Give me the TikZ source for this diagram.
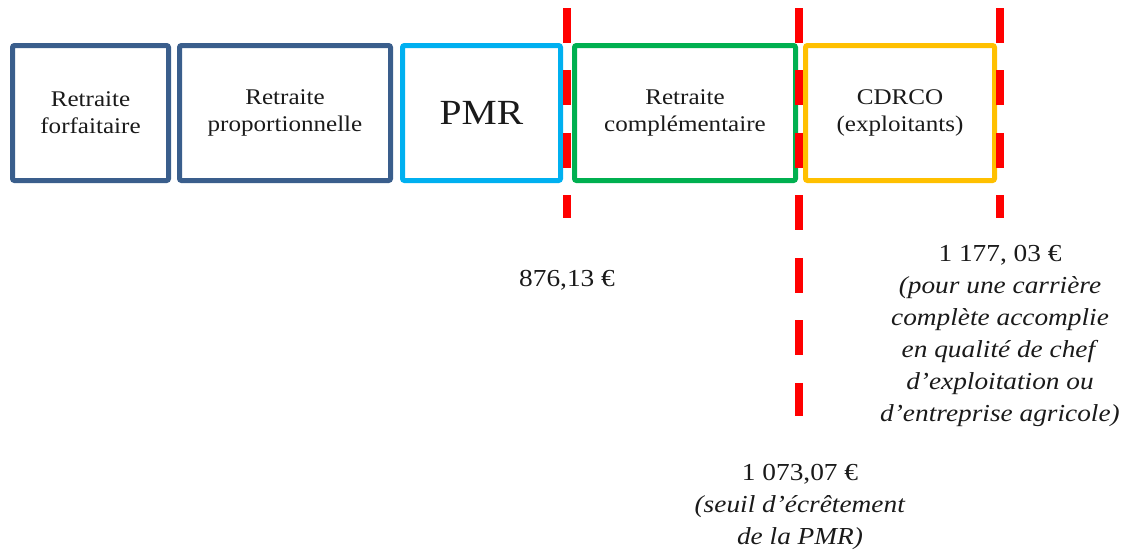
\documentclass[tikz,border=0pt]{standalone}
\usepackage{fontspec}
\setmainfont{Liberation Serif}[FakeStretch=1.12]
\definecolor{darkblue}{HTML}{3A5E8C}
\definecolor{lightblue}{HTML}{00B0F0}
\definecolor{boxgreen}{HTML}{00B050}
\definecolor{boxorange}{HTML}{FFC000}
\definecolor{txt}{HTML}{1A1A1A}
\tikzset{
  box/.style={draw, line width=3.75pt, rounded corners=1.5pt, minimum height=101.25pt, inner sep=0pt, outer sep=0pt, align=center, text=txt, font=\fontsize{16.8}{20.5}\selectfont},
  redline/.style={draw=red, line width=6pt, dash pattern=on 26.25pt off 20.6pt},
  lbl/.style={inner sep=0pt, align=center, text=txt, font=\fontsize{18.3}{24}\selectfont}
}
\begin{document}
\begin{tikzpicture}[x=0.75pt, y=-0.75pt]
\useasboundingbox (0,0) rectangle (1128,550);
\node[box, draw=darkblue, minimum width=117pt] (b1) at (90.5,113) {Retraite\\forfaitaire};
\node[box, draw=darkblue, minimum width=158.25pt] (b2) at (285,113) {Retraite\\proportionnelle};
\node[box, draw=lightblue, minimum width=118.5pt, font=\fontsize{26.5}{30}\selectfont] (b3) at (481.5,113) {PMR};
\node[box, draw=boxgreen, minimum width=165.75pt] (b4) at (685,113) {Retraite\\complémentaire};
\node[box, draw=boxorange, minimum width=141.75pt] (b5) at (900,113) {CDRCO\\(exploitants)};
\coordinate (l1t) at (567,8); \coordinate (l1b) at (567,218);
\coordinate (l2t) at (799,8); \coordinate (l2b) at (799,416);
\coordinate (l3t) at (1000,8); \coordinate (l3b) at (1000,218);
\draw[redline] (l1t) -- (l1b);
\draw[redline] (l2t) -- (l2b);
\draw[redline] (l3t) -- (l3b);
\node[lbl] (v1) at (567,280) {876,13 €};
\node[lbl, anchor=north] (v3) at (1000,245) {1 177, 03 €\\\textit{(pour une carrière}\\\textit{complète accomplie}\\\textit{en qualité de chef}\\\textit{d’exploitation ou}\\\textit{d’entreprise agricole)}};
\node[lbl, anchor=north] (v2) at (800,464) {1 073,07 €\\\textit{(seuil d’écrêtement}\\\textit{de la PMR)}};
\end{tikzpicture}
\end{document}
